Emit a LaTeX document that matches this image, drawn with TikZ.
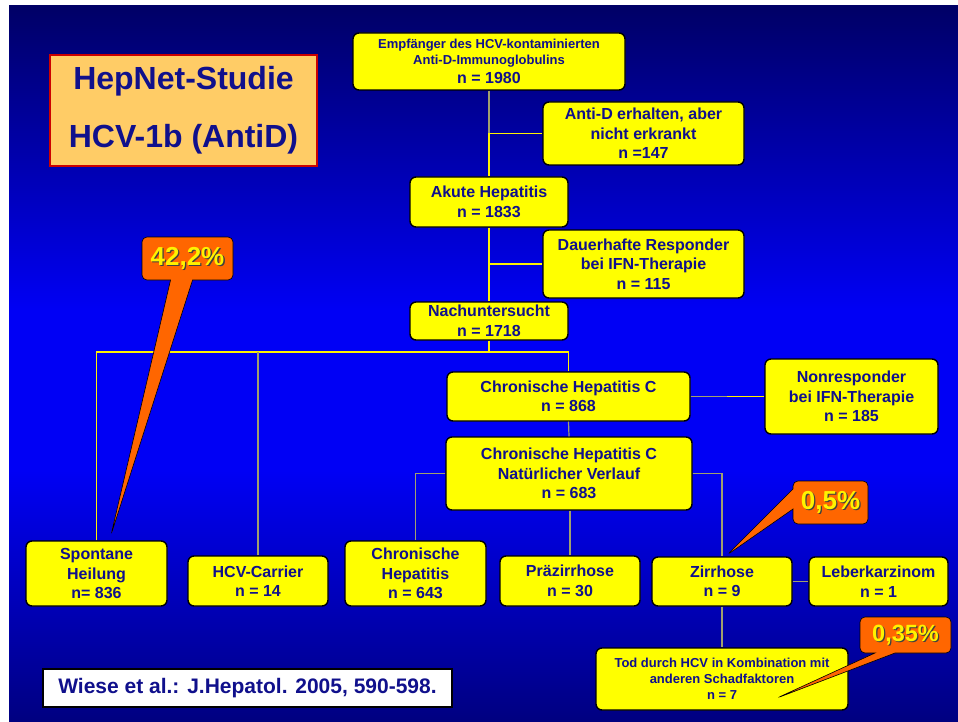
\documentclass[tikz,border=0pt]{standalone}
\usepackage{fontspec}
\setmainfont{Liberation Sans}
\usepackage{tikz}
\usetikzlibrary{shapes.callouts}
\definecolor{navy}{RGB}{16,16,140}
\definecolor{boxyellow}{RGB}{255,255,0}
\definecolor{linegray}{RGB}{160,160,110}
\definecolor{callorange}{RGB}{255,102,0}
\definecolor{titlefill}{RGB}{255,204,102}
\definecolor{titleline}{RGB}{204,0,0}
\definecolor{bgtop}{RGB}{0,0,102}
\definecolor{bgmid}{RGB}{0,0,245}
\definecolor{bgbot}{RGB}{0,0,128}
\newcommand{\shadowed}[1]{\rlap{\kern1.3pt\raisebox{-1.3pt}[0pt][0pt]{\color{black!75}#1}}#1}

\begin{document}
\begin{tikzpicture}[x=1pt, y=-1pt,
  flowbox/.style={draw=black, line width=1.4pt, fill=boxyellow, rounded corners=6pt,
    text=navy, align=center, inner sep=0pt, font=\bfseries\fontsize{16}{19.5}\selectfont},
  smallbox/.style={flowbox, font=\bfseries\fontsize{13}{16}\selectfont},
  yline/.style={draw=yellow, line width=1.2pt},
  gline/.style={draw=linegray, line width=1.2pt},
  pct/.style={rectangle callout, draw=black, line width=0.6pt, fill=callorange,
    rounded corners=5pt, text=yellow, inner sep=0pt, font=\bfseries\fontsize{26}{30}\selectfont}]
  \useasboundingbox (0,0) rectangle (958,722);
  % background
  \fill[white] (0,0) rectangle (958,722);
  \shade[top color=bgtop, bottom color=bgmid] (9,6) rectangle (958,311);
  \fill[bgmid] (9,310) rectangle (958,471);
  \shade[top color=bgmid, bottom color=bgbot] (9,470) rectangle (958,722);

  % title and source
  \node[draw=titleline, line width=2.5pt, fill=titlefill, text=navy, align=center,
        inner sep=0pt, minimum width=267pt, minimum height=111pt,
        font=\bfseries\fontsize{32}{58}\selectfont] (title) at (183.5,110.5)
        {HepNet-Studie\\HCV-1b (AntiD)};
  \node[draw=black, line width=1.5pt, fill=white, text=navy, inner sep=0pt,
        minimum width=409pt, minimum height=38pt,
        font=\bfseries\fontsize{21}{24}\selectfont] (cite) at (247.5,688)
        {Wiese et al.: J.Hepatol. 2005, 590-598.};

  % main column
  \node[smallbox, minimum width=272pt, minimum height=57pt] (top) at (489,61.5)
    {Empfänger des HCV-kontaminierten\\Anti-D-Immunoglobulins\\[3pt]
     \fontsize{16}{18}\selectfont n = 1980};
  \node[flowbox, minimum width=201pt, minimum height=63pt] (antid) at (643.5,133.5)
    {Anti-D erhalten, aber\\nicht erkrankt\\n =147};
  \node[flowbox, minimum width=158pt, minimum height=50pt] (akut) at (489,202)
    {Akute Hepatitis\\n = 1833};
  \node[flowbox, minimum width=201pt, minimum height=68pt] (dauer) at (643.5,264)
    {Dauerhafte Responder\\bei IFN-Therapie\\n = 115};
  \node[flowbox, minimum width=158pt, minimum height=38pt] (nach) at (489,321)
    {Nachuntersucht\\n = 1718};
  \node[flowbox, minimum width=243pt, minimum height=49pt] (chron) at (568.5,396.5)
    {Chronische Hepatitis C\\n = 868};
  \node[flowbox, minimum width=173pt, minimum height=75pt] (nonresp) at (851.5,396.5)
    {Nonresponder\\bei IFN-Therapie\\n = 185};
  \node[flowbox, minimum width=246pt, minimum height=73pt] (verlauf) at (569,473.5)
    {Chronische Hepatitis C\\Natürlicher Verlauf\\n = 683};

  % bottom row
  \node[flowbox, minimum width=141pt, minimum height=65pt] (spont) at (96.5,573.5)
    {Spontane\\Heilung\\n= 836};
  \node[flowbox, minimum width=140pt, minimum height=50pt] (carrier) at (258,581)
    {HCV-Carrier\\n = 14};
  \node[flowbox, minimum width=141pt, minimum height=65pt] (chr643) at (415.5,573.5)
    {Chronische\\Hepatitis\\n = 643};
  \node[flowbox, minimum width=140pt, minimum height=50pt] (praez) at (570,581)
    {Präzirrhose\\n = 30};
  \node[flowbox, minimum width=140pt, minimum height=49pt] (zirr) at (722,581.5)
    {Zirrhose\\n = 9};
  \node[flowbox, minimum width=139pt, minimum height=49pt] (leber) at (878.5,581.5)
    {Leberkarzinom\\n = 1};
  \node[smallbox, minimum width=252pt, minimum height=62pt] (tod) at (722,679)
    {Tod durch HCV in Kombination mit\\anderen Schadfaktoren\\n = 7};

  % connectors
  \coordinate (j1) at (top.south |- antid.west);
  \draw[gline] (top.south) -- (j1);
  \draw[yline] (j1) -- (akut.north);
  \draw[yline] (j1) -- (antid.west);
  \coordinate (j2) at (akut.south |- dauer.west);
  \draw[yline] (akut.south) -- (nach.north);
  \draw[yline] (j2) -- (dauer.west);
  \coordinate (bar) at (489,352);
  \draw[yline] (nach.south) -- (bar);
  \draw[yline] (spont.north) -- (spont.north |- bar) -- (chron.north |- bar) -- (chron.north);
  \draw[gline] (carrier.north) -- (carrier.north |- bar);
  \coordinate (j3) at (727,396.5);
  \draw[gline] (chron.east) -- (j3);
  \draw[yline] (j3) -- (nonresp.west);
  \draw[gline] (chron.south) -- (verlauf.north);
  \draw[gline] (verlauf.west) -| (chr643.north);
  \draw[gline] (verlauf.east) -| (zirr.north);
  \draw[gline] (verlauf.south -| praez.north) -- (praez.north);
  \draw[gline] (zirr.east) -- (leber.west);
  \draw[gline] (zirr.south) -- (tod.north);

  % percentage callouts
  \coordinate (tip1) at (111,535);
  \coordinate (tip2) at (727,555);
  \coordinate (tip3) at (777,698);
  \node[pct, minimum width=91pt, minimum height=43pt, callout pointer width=22pt,
        callout absolute pointer=(tip1)] (p1) at (187.5,258.5) {\shadowed{42,2\%}};
  \node[pct, minimum width=75pt, minimum height=43pt, callout pointer width=20pt,
        callout absolute pointer=(tip2)] (p2) at (830.5,502.5) {\shadowed{0,5\%}};
  \node[pct, minimum width=91pt, minimum height=36pt, callout pointer width=20pt,
        font=\bfseries\fontsize{23.5}{28}\selectfont,
        callout absolute pointer=(tip3)] (p3) at (905.5,635) {\shadowed{0,35\%}};
\end{tikzpicture}
\end{document}
